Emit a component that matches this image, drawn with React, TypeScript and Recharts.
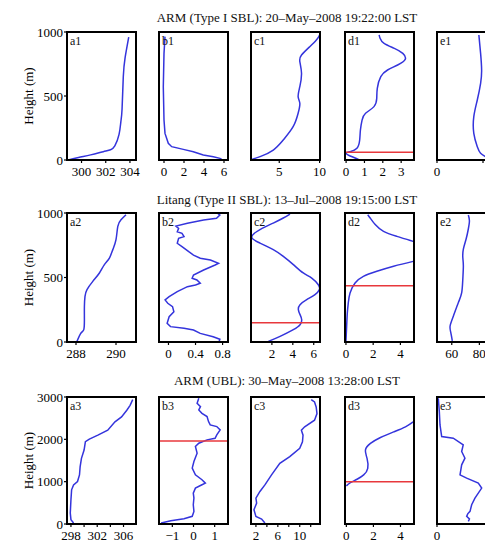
import { LineChart, Line, XAxis, YAxis, ReferenceLine } from 'recharts'

// Profiles are [height (m), value] pairs, bottom to top.
// Row 1: ARM, Type I SBL
const a1Profile = [[0, 298.9], [20, 299.75], [40, 300.75], [65, 301.8], [80, 302.4], [110, 302.75], [200, 303.1], [300, 303.25], [400, 303.35], [650, 303.45], [800, 303.6], [960, 303.9]]
const b1Profile = [[5, 5.77], [13, 5.6], [26, 4.93], [39, 3.93], [65, 2.93], [83, 1.93], [104, 0.77], [130, 0.43], [208, 0.1], [312, 0], [573, -0.07], [833, 0], [964, 0.1]]
const c1Profile = [[5, 1.6], [26, 2.63], [78, 4.26], [156, 5.49], [260, 6.72], [365, 7.34], [443, 7.55], [495, 7.34], [573, 7.55], [677, 7.76], [768, 7.55], [820, 7.76], [885, 8.78], [937, 9.6], [977, 10], [1000, 10.05]]
const d1Profile = [[5, 0.68], [31, 0.22], [52, 0], [65, 0.22], [91, 0.59], [156, 0.74], [234, 0.78], [312, 0.87], [365, 1.06], [417, 1.52], [482, 1.67], [560, 1.7], [651, 1.89], [703, 2.26], [742, 2.81], [786, 3.22], [833, 3.09], [872, 2.63], [911, 2.07], [951, 1.85], [977, 1.8]]
const e1Profile = [[0, 60], [26, 52.9], [52, 47.4], [104, 43.8], [208, 40], [339, 40], [469, 43.8], [599, 47.4], [703, 48.5], [833, 47.4], [977, 45.5]]

// Row 2: Litang, Type II SBL
const a2Profile = [[5, 288.05], [70, 288.25], [96, 288.39], [173, 288.42], [276, 288.42], [354, 288.45], [406, 288.55], [470, 288.84], [535, 289.17], [600, 289.42], [651, 289.67], [716, 289.84], [793, 290], [897, 290.09], [948, 290.25], [987, 290.5]]
const b2Profile = [[5, 0.75], [21, 0.76], [41, 0.66], [67, 0.47], [93, 0.37], [106, 0.23], [119, 0.03], [145, -0.02], [196, 0.01], [235, 0.08], [274, 0.06], [300, -0.01], [326, -0.05], [351, 0.01], [390, 0.13], [429, 0.28], [442, 0.4], [455, 0.47], [481, 0.42], [494, 0.35], [519, 0.37], [558, 0.52], [597, 0.69], [610, 0.74], [636, 0.62], [649, 0.47], [674, 0.37], [700, 0.3], [739, 0.2], [765, 0.13], [804, 0.15], [817, 0.23], [842, 0.2], [855, 0.13], [881, 0.15], [899, 0.11], [920, 0.28], [946, 0.52], [959, 0.71], [984, 0.76], [997, 0.73]]
const c2Profile = [[5, 1.66], [44, 2.78], [96, 4.05], [134, 4.69], [173, 4.85], [212, 4.69], [251, 4.53], [289, 4.69], [328, 5.33], [367, 6.12], [406, 6.54], [444, 6.44], [496, 5.81], [535, 5.0], [600, 4.05], [664, 3.09], [716, 2.13], [767, 0.86], [814, 0.07], [871, 0.86], [922, 2.13], [961, 3.09], [992, 3.73]]
const d2Profile = [[5, 0], [121, 0.05], [225, 0.1], [302, 0.17], [380, 0.3], [457, 0.67], [509, 1.28], [548, 2.27], [587, 3.5], [625, 4.94], [660, 6.2], [700, 6.8], [740, 6.2], [780, 4.94], [819, 3.75], [858, 2.76], [910, 2.15], [961, 1.78], [987, 1.6]]
const e2Profile = [[8, 60.4], [73, 59.3], [124, 58.8], [202, 61.2], [306, 64.8], [383, 67.2], [487, 68], [591, 68.4], [655, 68], [720, 68.4], [798, 70.4], [876, 72], [940, 72.8], [985, 72]]

// Row 3: ARM, UBL
const a3Profile = [[23, 298.4], [102, 298], [258, 297.9], [572, 298], [807, 298.1], [924, 298.4], [1003, 299], [1159, 299.3], [1355, 299.4], [1551, 299.6], [1747, 300], [1943, 300.2], [2005, 300.8], [2099, 302.1], [2217, 303.6], [2413, 304.7], [2530, 305.7], [2687, 306.5], [2804, 307], [2937, 307.4]]
const b3Profile = [[24, -1.53], [79, -1.07], [126, -0.45], [181, -0.06], [298, 0.02], [456, -0.01], [613, 0.02], [730, -0.01], [848, 0.09], [927, 0.4], [966, 0.56], [1045, 0.4], [1162, 0.09], [1319, -0.06], [1476, 0.02], [1673, 0.17], [1830, 0.09], [1908, 0.25], [1987, 0.64], [2026, 1.02], [2105, 1.1], [2222, 1.26], [2301, 1.1], [2340, 0.79], [2419, 0.71], [2537, 0.64], [2615, 0.4], [2694, 0.25], [2772, 0.33], [2851, 0.17], [2969, 0.25]]
const c3Profile = [[23, 3.64], [117, 3.04], [180, 2.0], [337, 1.64], [493, 2.13], [611, 2.0], [768, 2.73], [924, 3.64], [1159, 4.85], [1433, 6.36], [1590, 8.18], [1786, 10], [1943, 10.5], [2099, 10.6], [2217, 10.3], [2295, 10.9], [2452, 12.7], [2608, 13.15], [2765, 13.0], [2882, 12.7], [2937, 12.1]]
const d3Profile = [[901, 0], [979, 0.3], [1057, 0.79], [1159, 1.28], [1316, 1.58], [1551, 1.53], [1747, 1.41], [1903, 1.78], [2044, 2.52], [2177, 3.5], [2295, 4.37], [2412, 4.94]]
const e3Profile = [[63, 9.08], [120, 9.4], [181, 8.6], [240, 8.9], [298, 9.57], [456, 10.05], [613, 11], [848, 12.95], [966, 11.97], [1084, 8.6], [1162, 6.67], [1398, 7.15], [1555, 8.1], [1712, 7.15], [1869, 7.6], [2026, 4.72], [2065, 1.36], [2340, 0.87], [2654, 0.67], [2969, 0.38]]

// boundary-layer heights (red lines)
const d1Sbl = 60
const c2Sbl = 150
const d2Sbl = 437
const b3Ubl = 1960
const d3Ubl = 1000

const titles = [
  'ARM (Type I SBL): 20\u2013May\u20132008 19:22:00 LST',
  'Litang (Type II SBL): 13\u2013Jul\u20132008 19:15:00 LST',
  'ARM (UBL): 30\u2013May\u20132008 13:28:00 LST',
]
const heightTicks = [0, 500, 1000]
const heightTicksUbl = [0, 1000, 2000, 3000]

const FONT = '"Liberation Serif", "Times New Roman", serif'
const BLUE = '#3434dc'
const RED = '#e8383c'

const COL_X = [67, 159, 251, 345, 437]
const ROW_Y = [32, 213, 397]
const ROW_H = [128, 129, 127]
const TITLE_BASE = [22, 204, 385]
const PLOT_W = 69
const LEFT_W = 50
const TOP_H = 8
const RIGHT_W = 8
const BOTTOM_H = 26

const fmt = (v: number) => (v < 0 ? '\u2212' + Math.abs(v) : String(v))

interface PanelProps {
  tag: string
  col: number
  row: number
  profile: number[][]
  xDomain: [number, number]
  xTicks: number[]
  xShown?: number[]
  yTicks: number[]
  bl?: number
  curve?: 'linear' | 'natural'
}

function Panel({ tag, col, row, profile, xDomain, xTicks, xShown = xTicks, yTicks, bl, curve = 'linear' }: PanelProps) {
  const h = ROW_H[row]
  const data = profile.map(([height, v]) => ({ height, v }))
  const yDomain: [number, number] = [0, yTicks[yTicks.length - 1]]
  const frame = { stroke: '#000', strokeWidth: 2, strokeLinecap: 'square' as const }
  const tickLine = { stroke: '#000', strokeWidth: 1.2 }
  const tickStyle = { fontFamily: FONT, fontSize: 13, fill: '#000' }
  const first = col === 0
  return (
    <div style={{ position: 'absolute', left: COL_X[col] - LEFT_W, top: ROW_Y[row] - TOP_H }}>
      <LineChart
        width={LEFT_W + PLOT_W + RIGHT_W}
        height={TOP_H + h + BOTTOM_H}
        data={data}
        margin={{ top: 0, right: 0, bottom: 0, left: 0 }}
      >
        <XAxis
          dataKey="v"
          type="number"
          domain={xDomain}
          ticks={xTicks}
          allowDataOverflow
          interval={0}
          height={BOTTOM_H}
          axisLine={frame}
          tickLine={tickLine}
          tickSize={3}
          tickMargin={4}
          tick={tickStyle}
          tickFormatter={(v: number) => (xShown.includes(v) ? fmt(v) : '')}
        />
        <XAxis
          xAxisId="top"
          orientation="top"
          type="number"
          domain={xDomain}
          ticks={xTicks}
          allowDataOverflow
          interval={0}
          height={TOP_H}
          axisLine={frame}
          tickLine={tickLine}
          tickSize={3}
          tick={false}
        />
        <YAxis
          type="number"
          domain={yDomain}
          ticks={yTicks}
          allowDataOverflow
          interval={0}
          width={LEFT_W}
          axisLine={frame}
          tickLine={tickLine}
          tickSize={3}
          tickMargin={1}
          tick={first ? tickStyle : false}
          label={
            first
              ? { value: 'Height (m)', angle: -90, position: 'center', dx: -14, fill: '#000', fontSize: 13, fontFamily: FONT }
              : undefined
          }
        />
        <YAxis
          yAxisId="right"
          orientation="right"
          type="number"
          domain={yDomain}
          ticks={yTicks}
          allowDataOverflow
          interval={0}
          width={RIGHT_W}
          axisLine={frame}
          tickLine={tickLine}
          tickSize={3}
          tick={false}
        />
        <Line
          dataKey="height"
          type={curve}
          stroke={BLUE}
          strokeWidth={1.5}
          dot={false}
          isAnimationActive={false}
        />
        {bl !== undefined && <ReferenceLine y={bl} stroke={RED} strokeWidth={1.5} />}
      </LineChart>
      <div
        style={{
          position: 'absolute',
          left: LEFT_W + 3,
          top: TOP_H + 3,
          fontFamily: FONT,
          fontSize: 12,
          lineHeight: '12px',
          color: '#111',
        }}
      >
        {tag}
      </div>
    </div>
  )
}

export default function App() {
  return (
    <div
      style={{
        position: 'fixed',
        left: 0,
        top: 0,
        width: 485,
        height: 542,
        overflow: 'hidden',
        background: '#fff',
      }}
    >
      {titles.map((t, i) => (
        <div
          key={t}
          style={{
            position: 'absolute',
            left: 87,
            top: TITLE_BASE[i] - 11,
            width: 400,
            textAlign: 'center',
            fontFamily: FONT,
            fontSize: 13,
            lineHeight: '13px',
            color: '#111',
            whiteSpace: 'nowrap',
          }}
        >
          {t}
        </div>
      ))}

      <Panel tag="a1" col={0} row={0} profile={a1Profile} xDomain={[298.8, 304.5]} xTicks={[300, 302, 304]} yTicks={heightTicks} curve="natural" />
      <Panel tag="b1" col={1} row={0} profile={b1Profile} xDomain={[-0.5, 6.4]} xTicks={[0, 2, 4, 6]} yTicks={heightTicks} />
      <Panel tag="c1" col={2} row={0} profile={c1Profile} xDomain={[1.5, 10.05]} xTicks={[5, 10]} yTicks={heightTicks} curve="natural" />
      <Panel tag="d1" col={3} row={0} profile={d1Profile} xDomain={[-0.06, 3.7]} xTicks={[0, 1, 2, 3]} yTicks={heightTicks} bl={d1Sbl} curve="natural" />
      <Panel tag="e1" col={4} row={0} profile={e1Profile} xDomain={[0, 75]} xTicks={[0, 50]} xShown={[0]} yTicks={heightTicks} curve="natural" />

      <Panel tag="a2" col={0} row={1} profile={a2Profile} xDomain={[287.55, 291]} xTicks={[288, 290]} yTicks={heightTicks} curve="natural" />
      <Panel tag="b2" col={1} row={1} profile={b2Profile} xDomain={[-0.14, 0.88]} xTicks={[0, 0.4, 0.8]} yTicks={heightTicks} />
      <Panel tag="c2" col={2} row={1} profile={c2Profile} xDomain={[0, 6.6]} xTicks={[2, 4, 6]} yTicks={heightTicks} bl={c2Sbl} curve="natural" />
      <Panel tag="d2" col={3} row={1} profile={d2Profile} xDomain={[-0.07, 5]} xTicks={[0, 2, 4]} yTicks={heightTicks} bl={d2Sbl} curve="natural" />
      <Panel tag="e2" col={4} row={1} profile={e2Profile} xDomain={[49.3, 99.3]} xTicks={[60, 80]} yTicks={heightTicks} curve="natural" />

      <Panel tag="a3" col={0} row={2} profile={a3Profile} xDomain={[297.4, 307.9]} xTicks={[298, 300, 302, 304, 306]} xShown={[298, 302, 306]} yTicks={heightTicksUbl} />
      <Panel tag="b3" col={1} row={2} profile={b3Profile} xDomain={[-1.63, 1.63]} xTicks={[-1, 0, 1]} yTicks={heightTicksUbl} bl={b3Ubl} />
      <Panel tag="c3" col={2} row={2} profile={c3Profile} xDomain={[1.1, 13.7]} xTicks={[2, 4, 6, 8, 10, 12]} xShown={[2, 6, 10]} yTicks={heightTicksUbl} />
      <Panel tag="d3" col={3} row={2} profile={d3Profile} xDomain={[-0.1, 5]} xTicks={[0, 2, 4]} yTicks={heightTicksUbl} bl={d3Ubl} curve="natural" />
      <Panel tag="e3" col={4} row={2} profile={e3Profile} xDomain={[0, 20]} xTicks={[0]} yTicks={heightTicksUbl} />
    </div>
  )
}
